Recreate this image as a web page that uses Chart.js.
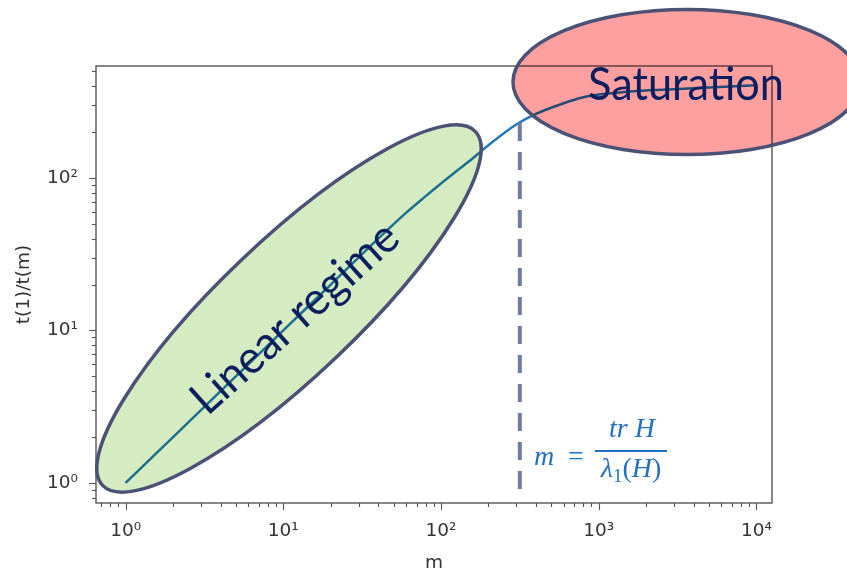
<!DOCTYPE html>
<html><head><meta charset="utf-8">
<script src="https://cdn.jsdelivr.net/npm/chart.js@4"></script>
<style>html,body{margin:0;padding:0;background:#fff;} #wrap{width:847px;height:570px;}</style>
</head><body><div id="wrap"><canvas id="c" width="847" height="570"></canvas></div>
<script>
// ---- data ----
const mValues     = [1, 2, 5, 10, 20, 40, 60, 80, 100, 120, 150, 200, 300, 400, 600, 800, 1000, 1500, 2000, 3000, 5000, 10000];
const ratioValues = [1, 2, 5, 10, 20, 40, 59, 76, 92, 107, 128, 164, 224, 263, 309, 338, 352, 367, 375, 381, 392, 405];
const xTickPowers = [0, 1, 2, 3, 4];
const yTickPowers = [0, 1, 2];
const xRange = [0.649, 12560];
const yRange = [0.739, 542];
const criticalM = 316;            // m = tr H / λ1(H)
const xTitle = 'm';
const yTitle = 't(1)/t(m)';
const labelLinear = 'Linear regime';
const labelSat = 'Saturation';

const SUP = {'0':'⁰','1':'¹','2':'²','3':'³','4':'⁴','5':'⁵','-':'⁻'};
function powLabel(v){
  const e = Math.log10(v);
  const r = Math.round(e);
  if (Math.abs(e - r) < 1e-9 && (xTickPowers.includes(r) || yTickPowers.includes(r))) {
    return '10' + String(r).split('').map(c => SUP[c]).join('');
  }
  return '';
}

const TICK_FONT = {family: 'DejaVu Sans', size: 18.5};
const TXT = '#333333';

function fitText(ctx, text, size, width){
  ctx.font = size + 'px Lato';
  return width / ctx.measureText(text).width;
}

const overlay = {
  id: 'overlay',
  beforeDraw(chart){
    const ctx = chart.ctx;
    ctx.save(); ctx.fillStyle = '#ffffff'; ctx.fillRect(0, 0, chart.width, chart.height); ctx.restore();
  },
  afterDraw(chart){
    const ctx = chart.ctx, a = chart.chartArea, xs = chart.scales.x, ys = chart.scales.y;
    ctx.save();
    // frame
    ctx.strokeStyle = '#555555'; ctx.lineWidth = 1.4;
    ctx.strokeRect(a.left, a.top, a.right - a.left, a.bottom - a.top);
    // tick marks (major / minor) from the scales
    ctx.lineWidth = 1.1;
    for (let e = -1; e <= 5; e++) {
      for (let k = 1; k <= 9; k++) {
        const v = k * Math.pow(10, e);
        const len = k === 1 ? 7 : 4;
        if (v >= xRange[0] && v <= xRange[1]) {
          const px = Math.round(xs.getPixelForValue(v)) + 0.5;
          ctx.beginPath(); ctx.moveTo(px, a.bottom); ctx.lineTo(px, a.bottom + len); ctx.stroke();
        }
        if (v >= yRange[0] && v <= yRange[1]) {
          const py = Math.round(ys.getPixelForValue(v)) + 0.5;
          ctx.beginPath(); ctx.moveTo(a.left, py); ctx.lineTo(a.left - len, py); ctx.stroke();
        }
      }
    }
    // dashed vertical marker
    const dx = xs.getPixelForValue(criticalM);
    ctx.strokeStyle = '#7079a8'; ctx.lineWidth = 4; ctx.setLineDash([18, 11]);
    ctx.beginPath(); ctx.moveTo(dx, 123); ctx.lineTo(dx, 490); ctx.stroke();
    ctx.setLineDash([]);

    // ellipses (multiply blend like a translucent overlay)
    const green = {cx: 289, cy: 308.5, rx: 257, ry: 68, rot: -43.5 * Math.PI / 180};
    const red = {cx: 687, cy: 82, rx: 174, ry: 72.5, rot: 0};
    ctx.globalCompositeOperation = 'multiply';
    ctx.fillStyle = 'rgb(213,235,193)';
    ctx.beginPath(); ctx.ellipse(green.cx, green.cy, green.rx, green.ry, green.rot, 0, Math.PI * 2); ctx.fill();
    ctx.fillStyle = 'rgb(255,160,160)';
    ctx.beginPath(); ctx.ellipse(red.cx, red.cy, red.rx, red.ry, red.rot, 0, Math.PI * 2); ctx.fill();
    ctx.globalCompositeOperation = 'source-over';
    ctx.strokeStyle = '#4b5276'; ctx.lineWidth = 3.5;
    ctx.beginPath(); ctx.ellipse(green.cx, green.cy, green.rx, green.ry, green.rot, 0, Math.PI * 2); ctx.stroke();
    ctx.beginPath(); ctx.ellipse(red.cx, red.cy, red.rx, red.ry, red.rot, 0, Math.PI * 2); ctx.stroke();

    // region labels
    ctx.fillStyle = '#0b1f5e';
    const FS = 46;
    let sx = fitText(ctx, labelSat, FS, 196);
    ctx.save();
    ctx.translate(588, 100); ctx.scale(sx, 1);
    ctx.font = FS + 'px Lato'; ctx.textAlign = 'left'; ctx.textBaseline = 'alphabetic';
    ctx.fillText(labelSat, 0, 0);
    ctx.restore();

    sx = fitText(ctx, labelLinear, FS, 262);
    ctx.save();
    ctx.translate(295, 318);
    ctx.rotate(-42 * Math.PI / 180);
    ctx.scale(sx, 1);
    ctx.font = FS + 'px Lato';
    ctx.textAlign = 'center'; ctx.textBaseline = 'middle';
    ctx.fillText(labelLinear, 0, 0);
    ctx.restore();

    // formula m = tr H / λ1(H)
    const blue = '#2370c0';
    ctx.fillStyle = blue;
    ctx.textBaseline = 'alphabetic';
    const it = 'italic 28px "Liberation Serif"', up = '28px "Liberation Serif"', sm = '19px "Liberation Serif"';
    ctx.font = it; ctx.textAlign = 'left';
    ctx.fillText('m', 534, 465);
    ctx.font = up; ctx.textAlign = 'center';
    ctx.fillText('=', 576, 465);
    ctx.fillRect(595, 450, 72, 2);
    ctx.font = it;
    ctx.fillText('tr H', 632, 437);
    // denominator composed of parts
    const parts = [['λ', it, 0], ['1', sm, 5], ['(', up, 0], ['H', it, 0], [')', up, 0]];
    let total = 0;
    parts.forEach(p => { ctx.font = p[1]; p.push(ctx.measureText(p[0]).width); total += p[3]; });
    let x0 = 631 - total / 2;
    ctx.textAlign = 'left';
    parts.forEach(p => { ctx.font = p[1]; ctx.fillText(p[0], x0, 477 + p[2]); x0 += p[3]; });
    ctx.restore();
  }
};

function lockRange(range){
  return function(s){ s.min = range[0]; s.max = range[1]; };
}

new Chart(document.getElementById('c'), {
  type: 'line',
  data: {
    datasets: [{
      data: mValues.map((m, i) => ({x: m, y: ratioValues[i]})),
      borderColor: '#2478ba',
      borderWidth: 2.5,
      pointRadius: 0,
      cubicInterpolationMode: 'monotone',
      fill: false
    }]
  },
  options: {
    responsive: false,
    animation: false,
    devicePixelRatio: 1,
    layout: {padding: {top: 66, right: 75, left: 0, bottom: 0}},
    plugins: {legend: {display: false}, tooltip: {enabled: false}},
    scales: {
      x: {
        type: 'logarithmic', position: 'bottom', min: xRange[0], max: xRange[1], bounds: 'data',
        grid: {display: false, drawTicks: false}, border: {display: false},
        ticks: {autoSkip: false, maxRotation: 0, padding: 17, color: TXT, font: TICK_FONT, callback: v => powLabel(v)},
        title: {display: true, text: xTitle, color: TXT, font: TICK_FONT, padding: {top: 0, bottom: -4}},
        afterBuildTicks: lockRange(xRange),
        afterFit(s){ s.height = 67; }
      },
      y: {
        type: 'logarithmic', position: 'left', min: yRange[0], max: yRange[1], bounds: 'data',
        grid: {display: false, drawTicks: false}, border: {display: false},
        ticks: {autoSkip: false, padding: 18, color: TXT, font: TICK_FONT, callback: v => powLabel(v)},
        title: {display: true, text: yTitle, color: TXT, font: TICK_FONT, padding: {top: 13, bottom: 0}},
        afterBuildTicks: lockRange(yRange),
        afterFit(s){ s.width = 96; }
      }
    }
  },
  plugins: [overlay]
});
</script>
</body></html>
